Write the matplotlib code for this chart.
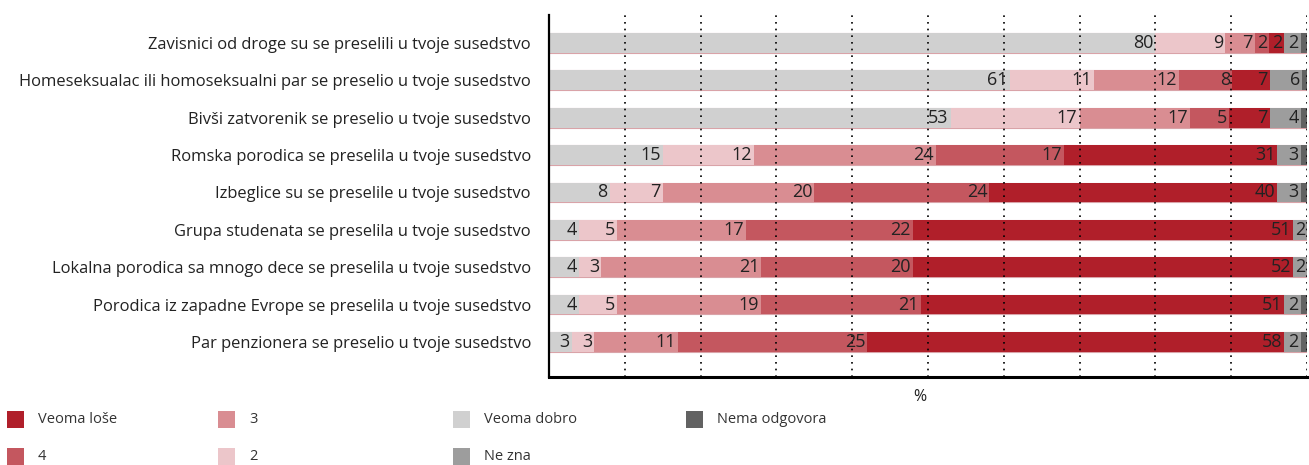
import matplotlib
matplotlib.use("Agg")
import matplotlib.pyplot as plt
from matplotlib.patches import Rectangle
import numpy as np

plt.rcParams['font.family'] = ['Open Sans', 'DejaVu Sans']

categories = [
    "Zavisnici od droge su se preselili u tvoje susedstvo",
    "Homeseksualac ili homoseksualni par se preselio u tvoje susedstvo",
    "Bivši zatvorenik se preselio u tvoje susedstvo",
    "Romska porodica se preselila u tvoje susedstvo",
    "Izbeglice su se preselile u tvoje susedstvo",
    "Grupa studenata se preselila u tvoje susedstvo",
    "Lokalna porodica sa mnogo dece se preselila u tvoje susedstvo",
    "Porodica iz zapadne Evrope se preselila u tvoje susedstvo",
    "Par penzionera se preselio u tvoje susedstvo",
]

series_names = ["Veoma dobro", "2", "3", "4", "Veoma loše", "Ne zna", "Nema odgovora"]

# bar lengths (%) as drawn
veoma_dobro = [80.0, 60.8, 53.0, 15.1, 8.0, 4.0, 4.0, 4.0, 3.0]
ocena_2     = [9.2, 11.1, 17.0, 11.9, 7.0, 5.0, 2.9, 5.0, 3.0]
ocena_3     = [3.9, 11.2, 14.6, 24.0, 20.0, 17.0, 21.1, 19.0, 11.0]
ocena_4     = [1.9, 7.0, 5.1, 17.0, 23.1, 22.0, 20.0, 21.1, 25.0]
veoma_lose  = [2.0, 5.0, 5.4, 28.1, 38.0, 50.2, 50.2, 47.9, 55.0]
ne_zna      = [2.2, 4.3, 4.1, 3.1, 3.1, 1.8, 1.8, 2.2, 2.2]
nema_odg    = [0.8, 0.6, 0.8, 0.8, 0.8, 0.0, 0.0, 0.8, 0.8]

# printed labels
lbl_veoma_dobro = [80, 61, 53, 15, 8, 4, 4, 4, 3]
lbl_2           = [9, 11, 17, 12, 7, 5, 3, 5, 3]
lbl_3           = [7, 12, 17, 24, 20, 17, 21, 19, 11]
lbl_4           = [2, 8, 5, 17, 24, 22, 20, 21, 25]
lbl_veoma_lose  = [2, 7, 7, 31, 40, 51, 52, 51, 58]
lbl_ne_zna      = [2, 6, 4, 3, 3, 2, 2, 2, 2]

colors = ["#d0d0d0", "#ecc6ca", "#d98d92", "#c4575f", "#b01f2a", "#9d9d9d", "#626262"]

widths = [veoma_dobro, ocena_2, ocena_3, ocena_4, veoma_lose, ne_zna, nema_odg]
labels = [lbl_veoma_dobro, lbl_2, lbl_3, lbl_4, lbl_veoma_lose, lbl_ne_zna, None]

fig = plt.figure(figsize=(13.09, 4.65), dpi=100)
ax = fig.add_axes([549/1309, 1 - 377/465, (1307-549)/1309, (377-15)/465])

y = np.arange(len(categories))
h = 0.53

# background strip with thin pink edge
ax.barh(y, [100]*len(y), height=h, color="none", edgecolor="#d9a3a8", linewidth=0.8, zorder=1)

left = np.zeros(len(categories))
for w, c, lab, name in zip(widths, colors, labels, series_names):
    w = np.array(w)
    ax.barh(y, w, left=left, height=h, color=c, edgecolor="none", zorder=2, label=name)
    if lab is not None:
        for yi, (l, wi, txt) in enumerate(zip(left, w, lab)):
            ax.annotate(str(txt), xy=(l + wi, yi), xytext=(-1.5, 0), textcoords="offset points",
                        ha="right", va="center", fontsize=13, color="#222222", zorder=4)
    left = left + w

for gx in range(10, 101, 10):
    ax.axvline(gx, color="black", linestyle=(0, (1, 3)), linewidth=1.2, zorder=3)

ax.set_xlim(0, 100)
ax.set_ylim(8.94, -0.75)
ax.set_yticks(y)
ax.set_yticklabels(categories, fontsize=11.9, color="#222222")
ax.tick_params(axis="y", length=0, pad=13)
ax.set_xticks([])
for s in ["top", "right"]:
    ax.spines[s].set_visible(False)
ax.spines["left"].set_linewidth(1.6)
ax.spines["bottom"].set_linewidth(2.2)

fig.text(920/1309, 1 - 397/465, "%", fontsize=11.5, color="#222222", ha="center", va="center")

# legend laid out manually
legend_order = [4, 3, 2, 1, 0, 5, 6]
col_x = [7, 218, 453, 686]
row_y = [420, 457]
for k, idx in enumerate(legend_order):
    col, row = divmod(k, 2)
    px, py = col_x[col], row_y[row]
    fig.patches.append(Rectangle((px/1309, 1 - (py + 8)/465), 17/1309, 17/465,
                                 transform=fig.transFigure, facecolor=colors[idx],
                                 edgecolor="none"))
    fig.text((px + 31)/1309, 1 - (py - 1)/465, series_names[idx], fontsize=10.5,
             color="#333333", va="center", ha="left")

fig.savefig("out.png", dpi=100)
